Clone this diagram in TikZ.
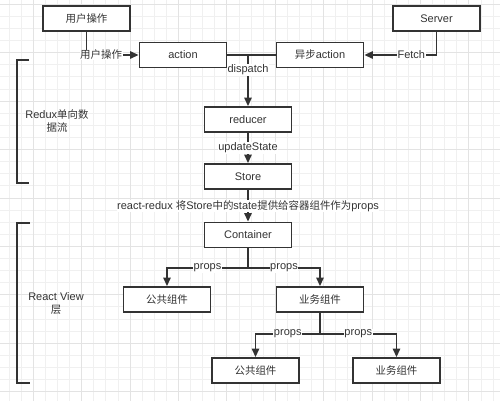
\documentclass[tikz,border=0pt]{standalone}
\usepackage{fontspec}
\setmainfont{Liberation Sans}
\newfontfamily\zhfont[Scale=0.95]{Noto Sans CJK SC}
\newcommand{\zh}[1]{{\zhfont #1}}
\usetikzlibrary{arrows.meta,positioning}
\definecolor{ink}{HTML}{333333}

\begin{document}
\begin{tikzpicture}[x=1pt,y=-1pt,
	every node/.style={font=\fontsize{11}{13}\selectfont, text=ink},
	box/.style={draw=ink, line width=1.9pt, fill=white, minimum width=87pt, minimum height=25pt, inner sep=0pt},
	link/.style={draw=ink, line width=1.4pt, -{Triangle[length=8.5pt,width=7.5pt]}},
	lab/.style={fill=white, inner sep=0.6pt},
	bracket/.style={draw=ink, line width=1.8pt},
	gridminor/.style={draw=black!6, line width=0.8pt},
	gridmajor/.style={draw=black!11, line width=0.8pt}]
	% background and grid
	\fill[white] (0,0) rectangle (500,401);
	\useasboundingbox (0,0) rectangle (500,401);
	\foreach \i [evaluate=\i as \gx using 9+12.1*\i] in {0,...,40}
		\draw[gridminor] (\gx,0) -- (\gx,401);
	\foreach \j [evaluate=\j as \gy using 4.3+12.1*\j] in {0,...,32}
		\draw[gridminor] (0,\gy) -- (500,\gy);
	\foreach \i [evaluate=\i as \gx using 9+12.1*\i] in {2,6,...,38}
		\draw[gridmajor] (\gx,0) -- (\gx,401);
	\foreach \j [evaluate=\j as \gy using 4.3+12.1*\j] in {0,4,...,32}
		\draw[gridmajor] (0,\gy) -- (500,\gy);

	% boxes
	\node[box] (user) at (86.5,18.5) {\zh{用户操作}};
	\node[box] (action) at (183,55) {action};
	\node[box] (async) at (320,55) {\zh{异步}action};
	\node[box] (server) at (436.5,18.5) {Server};
	\node[box] (reducer) at (248,119.5) {reducer};
	\node[box] (store) at (248,176.5) {Store};
	\node[box] (container) at (248,235) {Container};
	\node[box] (pubA) at (167,299.5) {\zh{公共组件}};
	\node[box] (bizA) at (320,299.5) {\zh{业务组件}};
	\node[box] (pubB) at (255.5,370.5) {\zh{公共组件}};
	\node[box] (bizB) at (396.5,370.5) {\zh{业务组件}};

	\coordinate (merge) at (248,55);
	\coordinate (splitA) at (248,268);
	\coordinate (splitB) at (320,334);

	% connectors
	\draw[link] (user) |- node[lab,pos=0.64]{\zh{用户操作}} (action);
	\draw[link] (server) |- node[lab,pos=0.675]{Fetch} (async);
	\draw[draw=ink, line width=1.4pt] (action) -- (merge) -- (async);
	\draw[link] (merge) -- node[lab,pos=0.29]{dispatch} (reducer);
	\draw[link] (reducer) -- node[lab]{updateState} (store);
	\draw[link] (store) -- node[lab]{react-redux \zh{将}Store\zh{中的}state\zh{提供给容器组件作为}props} (container);
	\draw[link] (container) -- (splitA) -| node[lab,pos=0.25]{props} (pubA);
	\draw[link] (container) -- (splitA) -| node[lab,pos=0.25]{props} (bizA);
	\draw[link] (bizA) -- (splitB) -| node[lab,pos=0.25]{props} (pubB);
	\draw[link] (bizA) -- (splitB) -| node[lab,pos=0.25]{props} (bizB);

	% layer brackets
	\draw[bracket] (29,60) -- (17,60) -- (17,183) -- (29,183);
	\draw[bracket] (30,223) -- (17,223) -- (17,383) -- (30,383);
	\node[align=center] (reduxlab) at (57,121.5) {Redux\zh{单向数}\\\zh{据流}};
	\node[align=center] (viewlab) at (56,303.5) {React View\\\zh{层}};
\end{tikzpicture}
\end{document}
